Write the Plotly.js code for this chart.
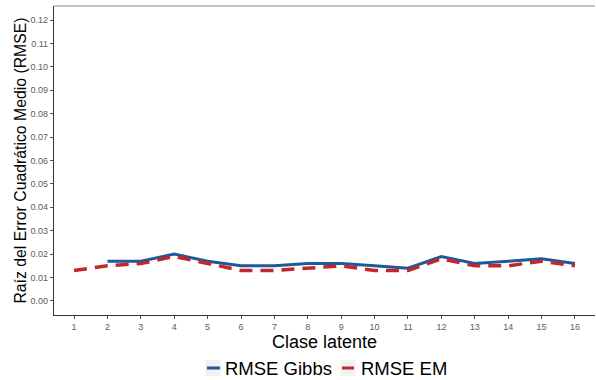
<!DOCTYPE html>
<html>
<head>
<meta charset="utf-8">
<script src="https://cdn.plot.ly/plotly-3.0.1.min.js"></script>
<style>
  html, body { margin: 0; padding: 0; background: #ffffff; }
  #chart { width: 596px; height: 380px; }
</style>
</head>
<body>
<div id="chart"></div>
<script>
// Latent classes on the x axis
const clases = [1, 2, 3, 4, 5, 6, 7, 8, 9, 10, 11, 12, 13, 14, 15, 16];

// RMSE of the Gibbs sampler (no value for class 1)
const clasesGibbs = [2, 3, 4, 5, 6, 7, 8, 9, 10, 11, 12, 13, 14, 15, 16];
const rmseGibbs = [0.017, 0.017, 0.020, 0.017, 0.015, 0.015, 0.016, 0.016, 0.015, 0.014, 0.019, 0.016, 0.017, 0.018, 0.016];

// RMSE of the EM algorithm
const rmseEM = [0.013, 0.015, 0.016, 0.019, 0.016, 0.013, 0.013, 0.014, 0.015, 0.013, 0.013, 0.018, 0.015, 0.015, 0.017, 0.015];

// Y axis ticks
const yTicks = [0, 0.01, 0.02, 0.03, 0.04, 0.05, 0.06, 0.07, 0.08, 0.09, 0.10, 0.11, 0.12];
const yTickText = yTicks.map(v => v.toFixed(2));

const seriesNames = ["RMSE Gibbs", "RMSE EM"];
const seriesColors = ["#1d5a9a", "#c3262c"];

const font = "Liberation Sans, Arial, sans-serif";

// Plot area in pixels, used to place the legend below it
const W = 596, H = 380;
const M = { l: 54, r: 1, t: 6, b: 65 };
const plotW = W - M.l - M.r, plotH = H - M.t - M.b;
const px = v => (v - M.l) / plotW;
const py = v => (H - M.b - v) / plotH;

const traces = [
  {
    x: clasesGibbs, y: rmseGibbs, type: "scatter", mode: "lines",
    name: seriesNames[0],
    line: { color: seriesColors[0], width: 3 }
  },
  {
    x: clases, y: rmseEM, type: "scatter", mode: "lines",
    name: seriesNames[1],
    line: { color: seriesColors[1], width: 3.5, dash: "13px,8px" }
  }
];

// Legend drawn as key boxes + labels, centred under the plot
const legendKeys = [
  { box: [205, 221], line: [207, 220], text: 223 },
  { box: [340, 356], line: [342, 354], text: 359 }
];
const legendY = 368;
const shapes = [
  { type: "line", xref: "paper", yref: "paper", x0: 0, x1: 1, y0: 1, y1: 1,
    line: { color: "#8c8c8c", width: 1.2 } }
];
const annotations = [];
legendKeys.forEach((k, i) => {
  shapes.push({ type: "rect", xref: "paper", yref: "paper",
    x0: px(k.box[0]), x1: px(k.box[1]), y0: py(legendY + 8), y1: py(legendY - 8),
    fillcolor: "#f2f2f2", line: { width: 0 } });
  shapes.push({ type: "line", xref: "paper", yref: "paper",
    x0: px(k.line[0]), x1: px(k.line[1]), y0: py(legendY), y1: py(legendY),
    line: { color: seriesColors[i], width: 3 } });
  annotations.push({ xref: "paper", yref: "paper", x: px(k.text), y: py(legendY),
    xanchor: "left", yanchor: "middle", showarrow: false, text: seriesNames[i],
    font: { size: 18.5, family: font, color: "#000000" } });
});

const layout = {
  width: W, height: H,
  margin: M,
  paper_bgcolor: "#ffffff", plot_bgcolor: "#ffffff",
  font: { family: font, color: "#000000" },
  showlegend: false,
  xaxis: {
    range: [0.4, 16.6],
    tickmode: "array", tickvals: clases, ticktext: clases.map(String),
    ticks: "outside", ticklen: 3, tickcolor: "#555555", tickwidth: 1,
    tickfont: { size: 9, color: "#5c5c5c", family: font },
    showgrid: false, zeroline: false,
    showline: true, linecolor: "#333333", linewidth: 1.2,
    title: { text: "Clase latente", font: { size: 18, family: font, color: "#000000" }, standoff: 2 }
  },
  yaxis: {
    range: [-0.006, 0.126],
    tickmode: "array", tickvals: yTicks, ticktext: yTickText,
    ticks: "outside", ticklen: 3, tickcolor: "#555555", tickwidth: 1,
    tickfont: { size: 9, color: "#5c5c5c", family: font },
    showgrid: false, zeroline: false,
    showline: true, linecolor: "#333333", linewidth: 1.2,
    title: { text: "Raíz del Error Cuadrático Medio (RMSE)", font: { size: 15.8, family: font, color: "#000000" }, standoff: 0 }
  },
  shapes: shapes,
  annotations: annotations
};

Plotly.newPlot("chart", traces, layout, { displayModeBar: false, staticPlot: true });
</script>
</body>
</html>
